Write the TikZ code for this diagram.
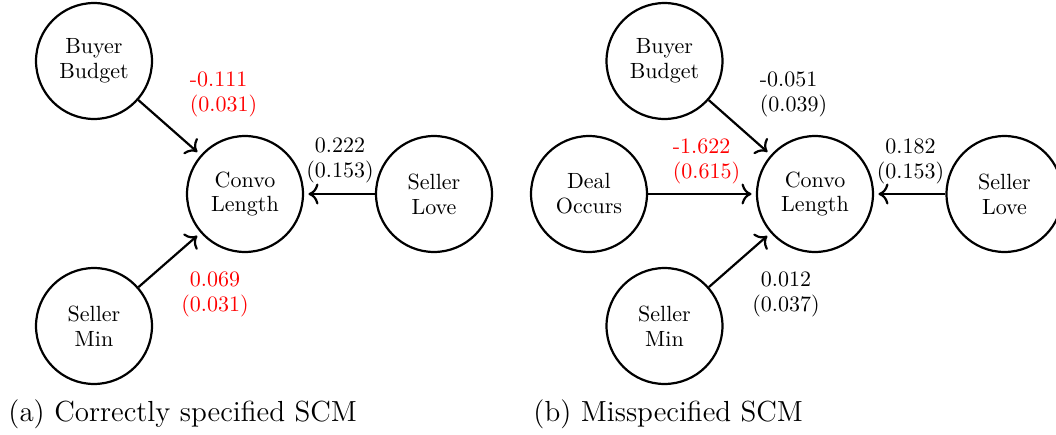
\documentclass[tikz,border=0pt]{standalone}
\usetikzlibrary{arrows.meta}
\begin{document}
\begin{tikzpicture}[>={To[scale=1.2]},x=0.4545pt,y=0.4545pt,
    var/.style={draw,circle,line width=1pt,minimum size=52.7pt,inner sep=0pt,align=center,font=\fontsize{10}{11.3}\selectfont},
    coef/.style={inner sep=0pt,align=center,font=\fontsize{10}{11.3}\selectfont},
    eff/.style={->,line width=1pt,shorten >=2pt},
    subcap/.style={anchor=base west,inner sep=0pt,font=\fontsize{13.2}{15.8}\selectfont}]
    \useasboundingbox (0,0) rectangle (1056,434);
    % (a) correctly specified
    \node[var] (budgetA) at (94,373) {Buyer\\Budget};
    \node[var] (convoA) at (245,240) {Convo\\Length};
    \node[var] (loveA) at (434,240) {Seller\\Love};
    \node[var] (minA) at (94,108) {Seller\\Min};
    \draw[eff] (budgetA) -- (convoA);
    \draw[eff] (loveA) -- (convoA);
    \draw[eff] (minA) -- (convoA);
    \node[coef,align=left,red] (cBudgetA) at (223.5,340) {-0.111\\(0.031)};
    \node[coef] (cLoveA) at (340,274) {0.222\\(0.153)};
    \node[coef,red] (cMinA) at (215,140) {0.069\\(0.031)};
    \node[subcap] (capA) at (8,13) {(a) Correctly specified SCM};
    % (b) misspecified
    \node[var] (budgetB) at (664.5,373) {Buyer\\Budget};
    \node[var] (dealB) at (589,240) {Deal\\Occurs};
    \node[var] (convoB) at (815,240) {Convo\\Length};
    \node[var] (loveB) at (1004.5,240) {Seller\\Love};
    \node[var] (minB) at (664.5,108) {Seller\\Min};
    \draw[eff] (budgetB) -- (convoB);
    \draw[eff] (dealB) -- (convoB);
    \draw[eff] (loveB) -- (convoB);
    \draw[eff] (minB) -- (convoB);
    \node[coef,align=left] (cBudgetB) at (793.5,340) {-0.051\\(0.039)};
    \node[coef,align=left,red] (cDealB) at (706.5,273) {-1.622\\(0.615)};
    \node[coef] (cLoveB) at (910.5,273) {0.182\\(0.153)};
    \node[coef] (cMinB) at (786,140) {0.012\\(0.037)};
    \node[subcap] (capB) at (533,13) {(b) Misspecified SCM};
\end{tikzpicture}
\end{document}
